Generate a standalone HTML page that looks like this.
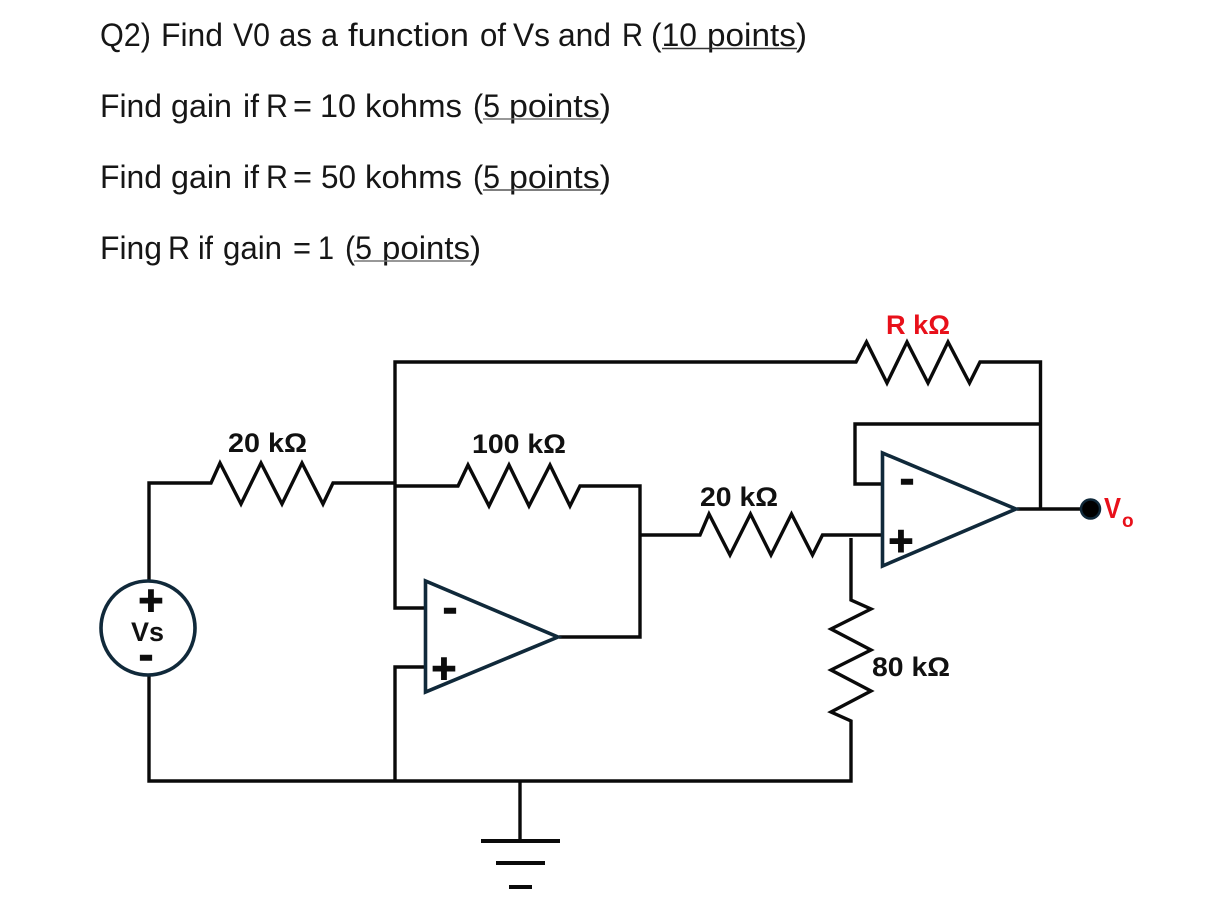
<!DOCTYPE html>
<html>
<head>
<meta charset="utf-8">
<style>
html,body{margin:0;padding:0;background:#fff;width:1231px;height:906px;overflow:hidden}
svg{display:block}
.t{font-family:"Liberation Sans",sans-serif;font-size:32px;fill:#161616}
.l{font-family:"Liberation Sans",sans-serif;font-size:27px;font-weight:bold;fill:#111}
.s{font-family:"DejaVu Sans",sans-serif;font-weight:bold;fill:#0c0c0c;stroke:#0c0c0c;text-anchor:middle}
.w{fill:none;stroke:#0a0a0a;stroke-width:3.4;stroke-linejoin:miter}
.o{fill:none;stroke:#10293a;stroke-width:3.6}
</style>
</head>
<body>
<svg width="1231" height="906" viewBox="0 0 1231 906" xmlns="http://www.w3.org/2000/svg">
<rect width="1231" height="906" fill="#fff"/>

<!-- Text lines -->
<g class="t">
<text x="100" y="46" textLength="51" lengthAdjust="spacingAndGlyphs">Q2)</text>
<text x="161" y="46" textLength="62" lengthAdjust="spacingAndGlyphs">Find</text>
<text x="233" y="46" textLength="37" lengthAdjust="spacingAndGlyphs">V0</text>
<text x="279" y="46" textLength="33" lengthAdjust="spacingAndGlyphs">as</text>
<text x="321" y="46" textLength="17" lengthAdjust="spacingAndGlyphs">a</text>
<text x="348" y="46" textLength="121" lengthAdjust="spacingAndGlyphs">function</text>
<text x="480" y="46" textLength="26" lengthAdjust="spacingAndGlyphs">of</text>
<text x="513" y="46" textLength="37" lengthAdjust="spacingAndGlyphs">Vs</text>
<text x="558" y="46" textLength="53" lengthAdjust="spacingAndGlyphs">and</text>
<text x="622" y="46" textLength="21" lengthAdjust="spacingAndGlyphs">R</text>
<text x="651" y="46" textLength="46" lengthAdjust="spacingAndGlyphs">(10</text>
<text x="707" y="46" textLength="100" lengthAdjust="spacingAndGlyphs">points)</text>

<text x="100" y="117" textLength="62" lengthAdjust="spacingAndGlyphs">Find</text>
<text x="171" y="117" textLength="61" lengthAdjust="spacingAndGlyphs">gain</text>
<text x="243" y="117" textLength="16" lengthAdjust="spacingAndGlyphs">if</text>
<text x="266" y="117" textLength="22" lengthAdjust="spacingAndGlyphs">R</text>
<text x="293" y="117" textLength="19" lengthAdjust="spacingAndGlyphs">=</text>
<text x="320" y="117" textLength="36" lengthAdjust="spacingAndGlyphs">10</text>
<text x="365" y="117" textLength="97" lengthAdjust="spacingAndGlyphs">kohms</text>
<text x="473" y="117" textLength="27" lengthAdjust="spacingAndGlyphs">(5</text>
<text x="509" y="117" textLength="102" lengthAdjust="spacingAndGlyphs">points)</text>

<text x="100" y="188" textLength="62" lengthAdjust="spacingAndGlyphs">Find</text>
<text x="171" y="188" textLength="61" lengthAdjust="spacingAndGlyphs">gain</text>
<text x="243" y="188" textLength="16" lengthAdjust="spacingAndGlyphs">if</text>
<text x="266" y="188" textLength="22" lengthAdjust="spacingAndGlyphs">R</text>
<text x="293" y="188" textLength="19" lengthAdjust="spacingAndGlyphs">=</text>
<text x="321" y="188" textLength="35" lengthAdjust="spacingAndGlyphs">50</text>
<text x="365" y="188" textLength="97" lengthAdjust="spacingAndGlyphs">kohms</text>
<text x="473" y="188" textLength="27" lengthAdjust="spacingAndGlyphs">(5</text>
<text x="509" y="188" textLength="102" lengthAdjust="spacingAndGlyphs">points)</text>

<text x="100" y="259" textLength="62" lengthAdjust="spacingAndGlyphs">Fing</text>
<text x="168" y="259" textLength="22" lengthAdjust="spacingAndGlyphs">R</text>
<text x="198" y="259" textLength="15" lengthAdjust="spacingAndGlyphs">if</text>
<text x="223" y="259" textLength="59" lengthAdjust="spacingAndGlyphs">gain</text>
<text x="293" y="259" textLength="18" lengthAdjust="spacingAndGlyphs">=</text>
<text x="318" y="259" textLength="16" lengthAdjust="spacingAndGlyphs">1</text>
<text x="345" y="259" textLength="27" lengthAdjust="spacingAndGlyphs">(5</text>
<text x="382" y="259" textLength="99" lengthAdjust="spacingAndGlyphs">points)</text>
</g>

<!-- Underlines -->
<g stroke-width="1.4">
<line x1="662" y1="48.5" x2="797" y2="48.5" stroke="#333"/>
<line x1="483" y1="119" x2="601" y2="119" stroke="#777"/>
<line x1="483" y1="190" x2="601" y2="190" stroke="#555"/>
<line x1="354" y1="261" x2="472" y2="261" stroke="#777"/>
</g>

<!-- Wires -->
<path class="w" d="M149 581V483H211L220 463L241 504L261 463L282 504L302 463L323 504L333 483H395"/>
<path class="w" d="M395 486H458L468 465L489 506L509 465L529 506L550 465L570 506L580 486H640V637H559"/>
<path class="w" d="M425 608H395V362H856L866.5 342L887 383L907 342L928 383L948 342L969.5 383L980 362H1040.5V509"/>
<path class="w" d="M425 667H395V781"/>
<path class="w" d="M149 675V781H851V721L831 712L871 691L831 670L871 650L831 629L871 609L851 600V538"/>
<path class="w" d="M640 535H700L709 514L730 555L750.5 514L771 555L791.5 514L812.5 555L822.5 535H882"/>
<path class="w" d="M1040.5 424H855V484H882"/>
<path class="w" d="M1017 509H1090"/>
<path class="w" d="M520 781V841"/>
<line x1="481" y1="841" x2="560" y2="841" stroke="#0a0a0a" stroke-width="4"/>
<line x1="496" y1="863" x2="545" y2="863" stroke="#0a0a0a" stroke-width="4"/>
<line x1="509" y1="887" x2="532" y2="887" stroke="#0a0a0a" stroke-width="4"/>

<!-- Op amps -->
<polygon class="o" points="425.5,581 425.5,692 558,637" fill="#fff"/>
<polygon class="o" points="882.5,453 882.5,566 1016,509" fill="#fff"/>

<!-- Source -->
<circle class="o" cx="148" cy="628" r="47" fill="#fff"/>

<!-- Signs -->
<text class="s" x="151" y="611" font-size="33" stroke-width="2">+</text>
<text class="s" x="146" y="669" font-size="38" stroke-width="0.6">-</text>
<text class="s" x="444" y="679" font-size="33" stroke-width="2">+</text>
<text class="s" x="450" y="622" font-size="38" stroke-width="0.6">-</text>
<text class="s" x="901" y="551.5" font-size="33" stroke-width="2">+</text>
<text class="s" x="907" y="493" font-size="38" stroke-width="0.6">-</text>

<!-- Labels -->
<text class="l" x="228" y="452" textLength="79" lengthAdjust="spacingAndGlyphs">20 kΩ</text>
<text class="l" x="472" y="453" textLength="94" lengthAdjust="spacingAndGlyphs">100 kΩ</text>
<text class="l" x="700" y="506" textLength="78" lengthAdjust="spacingAndGlyphs">20 kΩ</text>
<text class="l" x="886" y="334" textLength="64" lengthAdjust="spacingAndGlyphs" style="fill:#e8101a">R kΩ</text>
<text class="l" x="872" y="676" textLength="78" lengthAdjust="spacingAndGlyphs">80 kΩ</text>
<text class="l" x="131" y="641" textLength="33" lengthAdjust="spacingAndGlyphs">Vs</text>

<!-- Output -->
<circle cx="1090.5" cy="509" r="9.5" fill="#000" stroke="#10293a" stroke-width="2.5"/>
<text x="1104" y="518" font-family="Liberation Sans, sans-serif" font-size="29" font-weight="bold" fill="#e8101a" textLength="17" lengthAdjust="spacingAndGlyphs">V</text>
<text x="1122" y="527" font-family="Liberation Sans, sans-serif" font-size="19" font-weight="bold" fill="#e8101a">o</text>
</svg>
</body>
</html>
